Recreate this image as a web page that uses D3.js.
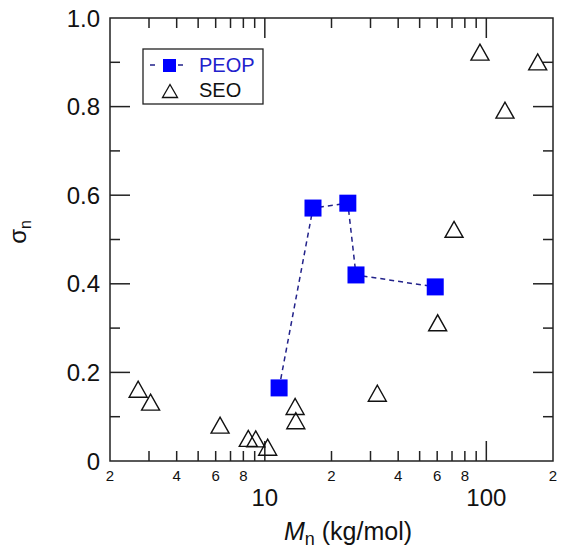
<!DOCTYPE html>
<html>
<head>
<meta charset="utf-8">
<script src="https://cdn.jsdelivr.net/npm/d3@7"></script>
<style>
  html, body { margin: 0; padding: 0; background: #fff; }
  svg { display: block; font-family: "Liberation Sans", Arial, sans-serif; }
</style>
</head>
<body>
<svg id="chart" width="563" height="554"></svg>
<script>
// ---- data ----
const peopMn    = [11.6, 16.5, 23.7, 25.8, 58.8];
const peopSigma = [0.165, 0.571, 0.582, 0.420, 0.393];

const seoMn    = [2.68, 3.05, 6.28, 8.42, 9.1, 10.3, 13.7, 13.8, 32.2, 60.3, 71.5, 93.6, 121.4, 170.6];
const seoSigma = [0.162, 0.133, 0.081, 0.051, 0.050, 0.031, 0.123, 0.091, 0.153, 0.312, 0.523, 0.923, 0.792, 0.901];

const xDomain = [2, 200];
const yDomain = [0, 1];
const yTickLabels = ["0", "0.2", "0.4", "0.6", "0.8", "1.0"];
const yTickValues = [0, 0.2, 0.4, 0.6, 0.8, 1.0];
const xMinorLabels = [2, 4, 6, 8, 20, 40, 60, 80, 200];
const xMajorLabels = [10, 100];
const seriesNames = ["PEOP", "SEO"];

// ---- layout ----
const svg = d3.select("#chart");
const L = 110, R = 553, T = 18, B = 461;
const x = d3.scaleLog().domain(xDomain).range([L, R]);
const y = d3.scaleLinear().domain(yDomain).range([B, T]);

const axisColor = "#222";
const g = svg.append("g");

// frame
g.append("rect").attr("x", L).attr("y", T).attr("width", R - L).attr("height", B - T)
  .attr("fill", "none").attr("stroke", axisColor).attr("stroke-width", 1.5);

// x ticks (inward, top and bottom)
const xTicks = [];
for (let d = 1; d <= 100; d *= 10) {
  for (let m = 1; m <= 9; m++) {
    const v = m * d;
    if (v > 2 && v < 200) xTicks.push(v);
  }
}
xTicks.forEach(v => {
  const major = (v === 10 || v === 100);
  const len = major ? 20 : 10;
  const px = x(v);
  g.append("line").attr("x1", px).attr("x2", px).attr("y1", B).attr("y2", B - len)
    .attr("stroke", axisColor).attr("stroke-width", 1.5);
  g.append("line").attr("x1", px).attr("x2", px).attr("y1", T).attr("y2", T + len)
    .attr("stroke", axisColor).attr("stroke-width", 1.5);
});

// y ticks (inward, left and right)
const yTicks = d3.range(1, 10).map(i => i / 10);
yTicks.forEach(v => {
  const major = Math.round(v * 10) % 2 === 0;
  const len = major ? 20 : 10;
  const py = y(v);
  g.append("line").attr("x1", L).attr("x2", L + len).attr("y1", py).attr("y2", py)
    .attr("stroke", axisColor).attr("stroke-width", 1.5);
  g.append("line").attr("x1", R).attr("x2", R - len).attr("y1", py).attr("y2", py)
    .attr("stroke", axisColor).attr("stroke-width", 1.5);
});

// y tick labels
yTickValues.forEach((v, i) => {
  g.append("text").attr("x", 100).attr("y", y(v)).attr("dy", "0.36em")
    .attr("text-anchor", "end").attr("font-size", 24).attr("fill", "#111")
    .text(yTickLabels[i]);
});

// x tick labels
xMinorLabels.forEach(v => {
  g.append("text").attr("x", x(v)).attr("y", 481)
    .attr("text-anchor", "middle").attr("font-size", 15).attr("fill", "#111")
    .text(String(v).charAt(0));
});
xMajorLabels.forEach(v => {
  g.append("text").attr("x", x(v)).attr("y", 506)
    .attr("text-anchor", "middle").attr("font-size", 24).attr("fill", "#111")
    .text(v);
});

// axis titles
const xt = g.append("text").attr("x", 348).attr("y", 540).attr("text-anchor", "middle")
  .attr("font-size", 25).attr("fill", "#111");
xt.append("tspan").attr("font-style", "italic").text("M");
xt.append("tspan").attr("font-size", 18).attr("dy", 5).text("n");
xt.append("tspan").attr("dy", -5).text(" (kg/mol)");

const yt = g.append("text").attr("transform", "translate(26,232) rotate(-90)")
  .attr("text-anchor", "middle").attr("font-size", 24).attr("fill", "#111");
yt.append("tspan").text("σ");
yt.append("tspan").attr("font-size", 16).attr("dy", 5).text("n");

// PEOP line
const peop = peopMn.map((m, i) => ({ m, s: peopSigma[i] }));
const seo = seoMn.map((m, i) => ({ m, s: seoSigma[i] }));
const line = d3.line().x(d => x(d.m)).y(d => y(d.s));
g.append("path").datum(peop).attr("d", line).attr("fill", "none")
  .attr("stroke", "#22228a").attr("stroke-width", 1.5).attr("stroke-dasharray", "5,4");

// SEO triangles
const triPath = (cx, cy, w, h) => `M${cx - w / 2},${cy + h / 2}L${cx + w / 2},${cy + h / 2}L${cx},${cy - h / 2}Z`;
g.selectAll("path.seo").data(seo).enter().append("path").attr("class", "seo")
  .attr("d", d => triPath(x(d.m), y(d.s), 18, 16))
  .attr("fill", "none").attr("stroke", "#111").attr("stroke-width", 1.4);

// PEOP squares
const sq = 17;
g.selectAll("rect.peop").data(peop).enter().append("rect").attr("class", "peop")
  .attr("x", d => x(d.m) - sq / 2).attr("y", d => y(d.s) - sq / 2)
  .attr("width", sq).attr("height", sq).attr("fill", "#0000ff");

// legend
const lg = g.append("g");
lg.append("rect").attr("x", 143).attr("y", 49).attr("width", 120).attr("height", 55)
  .attr("fill", "#fff").attr("stroke", "#222").attr("stroke-width", 1.3);
lg.append("line").attr("x1", 150).attr("x2", 192).attr("y1", 65).attr("y2", 65)
  .attr("stroke", "#22228a").attr("stroke-width", 1.5).attr("stroke-dasharray", "5,9");
lg.append("rect").attr("x", 163).attr("y", 59).attr("width", 13).attr("height", 13).attr("fill", "#0000ff");
lg.append("text").attr("x", 199).attr("y", 72).attr("font-size", 20).attr("fill", "#2222cc").text(seriesNames[0]);
lg.append("path").attr("d", triPath(170, 91, 15, 13)).attr("fill", "none").attr("stroke", "#111").attr("stroke-width", 1.3);
lg.append("text").attr("x", 199).attr("y", 97).attr("font-size", 20).attr("fill", "#111").text(seriesNames[1]);
</script>
</body>
</html>
